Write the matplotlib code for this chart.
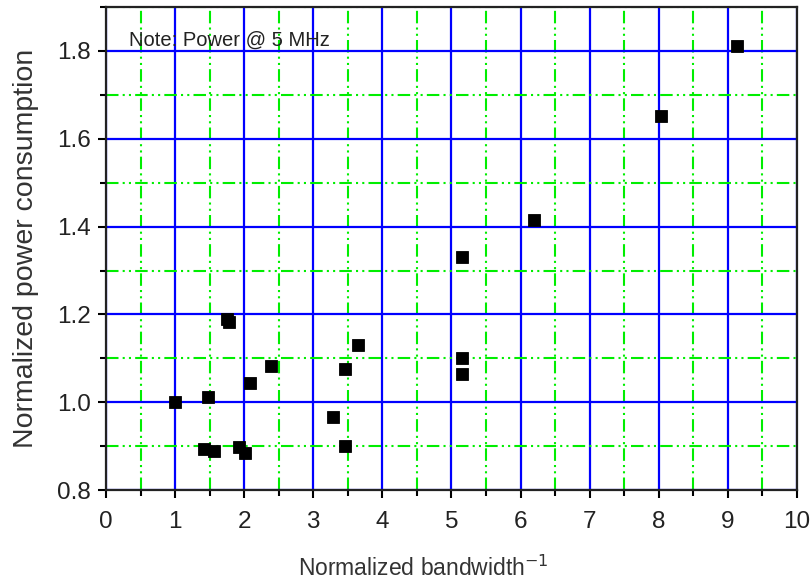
import numpy as np
import matplotlib.pyplot as plt
from matplotlib.ticker import MultipleLocator

plt.rcParams['font.family'] = ['Liberation Sans', 'DejaVu Sans']

# normalized 1/bandwidth vs normalized power
bw_inv = [1.00, 1.48, 1.42, 1.56, 1.75, 1.78, 1.92, 2.01, 2.08, 2.39,
          3.28, 3.46, 3.46, 3.65, 5.15, 5.15, 5.15, 6.19, 8.03, 9.13]
power = [1.000, 1.012, 0.894, 0.889, 1.189, 1.182, 0.898, 0.884, 1.044, 1.083,
         0.967, 1.076, 0.900, 1.131, 1.330, 1.101, 1.065, 1.416, 1.652, 1.811]

fig = plt.figure(figsize=(8.12, 5.87), dpi=100)
ax = fig.add_axes([0.1305, 0.165, 0.851, 0.823])

ax.set_xlim(0, 10)
ax.set_ylim(0.8, 1.9)
ax.xaxis.set_major_locator(MultipleLocator(1))
ax.xaxis.set_minor_locator(MultipleLocator(0.5))
ax.yaxis.set_minor_locator(MultipleLocator(0.1))
ax.set_yticks(np.arange(0.8, 1.81, 0.2))

ax.grid(which='major', color='#0000ff', linestyle='-', linewidth=1.6)
ax.grid(which='minor', color='#00ee00', linestyle=(0, (6, 2, 1, 2, 1, 2)), linewidth=1.5)
ax.set_axisbelow(True)

ax.plot(bw_inv, power, 's', color='black', markersize=8.5, markeredgewidth=0.6,
        linestyle='none')

ax.text(0.33, 1.825, 'Note: Power @ 5 MHz', fontsize=14.5, color='#222222',
        ha='left', va='center')

ax.tick_params(which='both', direction='out', width=1.5, labelsize=17.5,
               labelcolor='#222222')
ax.tick_params(axis='x', pad=9)
ax.tick_params(axis='y', pad=5)
ax.tick_params(which='major', length=6)
ax.tick_params(which='minor', length=4)
for s in ax.spines.values():
    s.set_linewidth(1.6)
    s.set_color('#222222')

ax.set_xlabel('Normalized bandwidth$^{-1}$', fontsize=16.5, color='#333333')
ax.set_ylabel('Normalized power consumption', fontsize=20.5, color='#333333')
ax.xaxis.set_label_coords(0.46, -0.135)
ax.yaxis.set_label_coords(-0.097, 0.5)

fig.savefig('out.png', dpi=100)
